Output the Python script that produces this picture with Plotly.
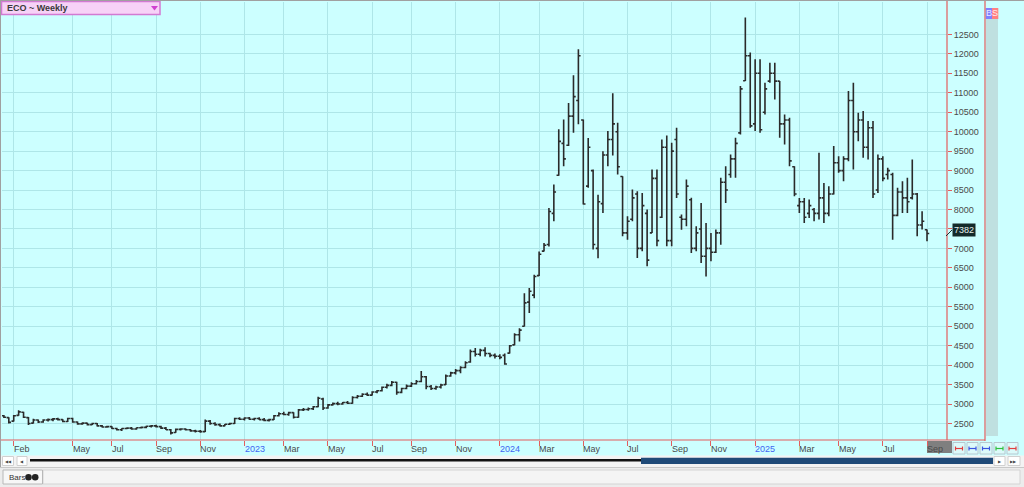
import plotly.graph_objects as go
import pandas as pd

# ---------------- data (weekly bars, week starting Monday) ----------------
first_week = "2022-01-24"

opens = [2700, 2650, 2560, 2710, 2790, 2650, 2510, 2590, 2540, 2590,
         2600, 2620, 2600, 2550, 2630, 2540, 2490, 2510, 2470, 2500,
         2440, 2410, 2420, 2370, 2340, 2370, 2380, 2360, 2390, 2400,
         2430, 2440, 2420, 2380, 2340, 2270, 2350, 2360, 2340, 2310,
         2300, 2290, 2560, 2500, 2470, 2440, 2480, 2500, 2630, 2610,
         2640, 2610, 2630, 2600, 2580, 2600, 2700, 2750, 2730, 2780,
         2660, 2850, 2860, 2880, 2930, 3130, 2900, 2980, 3010, 3000,
         3040, 3020, 3170, 3200, 3250, 3230, 3310, 3340, 3430, 3480,
         3560, 3300, 3400, 3460, 3520, 3580, 3700, 3450, 3400, 3440,
         3500, 3720, 3800, 3860, 3940, 4080, 4350, 4280, 4380, 4300,
         4250, 4230, 4250, 4310, 4520, 4780, 5000, 5620, 5800, 6300,
         6930, 7100, 7900, 8880, 9700, 9650, 10400, 10800, 10300, 8600,
         9000, 7000, 8150, 9400, 9800, 10000, 8850, 7400, 7750, 8400,
         7000, 7900, 7400, 8800, 7800, 9600, 7200, 9800, 7800, 7750,
         8250, 7000, 7500, 6800, 7000, 6900, 7400, 8700, 8900, 9300,
         9970, 11310, 11950, 10200, 11500, 10500, 11300, 11500, 11300, 10200,
         10300, 9100, 8100, 8200, 7900, 8000, 7900, 8300, 7900, 8400,
         9200, 9000, 9300, 10800, 10000, 10300, 9600, 10100, 8500, 9300,
         8900, 8900, 7850, 8450, 8300, 8300, 8400, 7600, 7480]

highs = [2720, 2660, 2720, 2840, 2800, 2670, 2620, 2600, 2610, 2630,
         2640, 2650, 2610, 2650, 2650, 2550, 2530, 2520, 2520, 2510,
         2460, 2440, 2430, 2390, 2380, 2400, 2410, 2400, 2420, 2440,
         2460, 2470, 2440, 2410, 2360, 2370, 2380, 2380, 2360, 2340,
         2330, 2600, 2590, 2530, 2500, 2490, 2520, 2650, 2660, 2660,
         2670, 2650, 2660, 2640, 2620, 2720, 2790, 2800, 2800, 2790,
         2870, 2900, 2910, 2950, 3190, 3160, 3000, 3040, 3060, 3050,
         3080, 3200, 3230, 3280, 3300, 3330, 3360, 3450, 3520, 3590,
         3570, 3420, 3500, 3560, 3620, 3850, 3720, 3490, 3470, 3520,
         3760, 3830, 3900, 3970, 4100, 4400, 4440, 4420, 4460, 4320,
         4300, 4280, 4300, 4520, 4820, 4950, 5850, 5980, 6320, 6920,
         7140, 8040, 8640, 10060, 10310, 10740, 11450, 12120, 10315, 9840,
         9030, 8380, 9500, 10015, 10985, 10230, 8856, 7826, 8513, 8470,
         8427, 7998, 9028, 9028, 9800, 9903, 9714, 10101, 7870, 8770,
         8300, 7570, 8170, 7654, 7397, 7483, 8813, 9114, 9414, 9843,
         11174, 12933, 12032, 11860, 11860, 11259, 11774, 11774, 11302, 10444,
         10358, 9114, 8298, 8298, 8255, 8041, 9457, 8684, 8598, 9629,
         9371, 9371, 11045, 11259, 10487, 10530, 10272, 10272, 9414, 9371,
         9071, 8942, 8556, 8727, 8813, 9285, 8427, 7955, 7483]

lows = [2640, 2500, 2550, 2700, 2640, 2460, 2500, 2510, 2520, 2550,
        2560, 2580, 2530, 2540, 2520, 2470, 2470, 2450, 2460, 2420,
        2400, 2390, 2360, 2320, 2310, 2350, 2340, 2340, 2370, 2380,
        2400, 2400, 2360, 2330, 2220, 2260, 2320, 2320, 2290, 2270,
        2260, 2280, 2470, 2440, 2420, 2430, 2460, 2490, 2590, 2580,
        2590, 2580, 2590, 2560, 2550, 2590, 2680, 2710, 2700, 2630,
        2650, 2820, 2830, 2850, 2920, 2850, 2880, 2960, 2970, 2980,
        3000, 3010, 3140, 3180, 3210, 3220, 3280, 3320, 3400, 3460,
        3240, 3280, 3380, 3440, 3500, 3560, 3380, 3360, 3370, 3400,
        3490, 3700, 3760, 3790, 3920, 4060, 4220, 4230, 4220, 4200,
        4170, 4150, 4010, 4300, 4510, 4610, 4990, 5340, 5720, 6290,
        6920, 7050, 7700, 8870, 9110, 9630, 9970, 10190, 8130, 8560,
        6970, 6750, 7910, 9110, 9390, 8900, 7311, 7225, 7697, 6753,
        6925, 6539, 7397, 7054, 7783, 7054, 7054, 8298, 7480, 7570,
        6880, 6925, 6624, 6281, 6667, 6882, 7096, 8169, 8813, 8813,
        9929, 11300, 10101, 10015, 9972, 10444, 11259, 10830, 9843, 9671,
        9114, 8341, 7912, 7654, 7783, 7697, 7740, 7654, 7826, 8384,
        8942, 8728, 9243, 9028, 9757, 9328, 9285, 8298, 8427, 8728,
        8770, 7225, 7826, 7912, 7912, 8255, 7311, 7483, 7182]

closes = [2660, 2530, 2700, 2800, 2660, 2500, 2590, 2540, 2590, 2600,
          2620, 2600, 2550, 2630, 2540, 2490, 2510, 2470, 2500, 2440,
          2410, 2420, 2370, 2340, 2370, 2380, 2360, 2390, 2400, 2430,
          2440, 2420, 2380, 2340, 2260, 2350, 2360, 2340, 2310, 2300,
          2290, 2560, 2500, 2470, 2440, 2480, 2500, 2630, 2610, 2640,
          2610, 2630, 2600, 2580, 2600, 2700, 2750, 2730, 2780, 2660,
          2850, 2860, 2880, 2930, 3150, 2900, 2980, 3010, 3000, 3040,
          3020, 3170, 3200, 3250, 3230, 3310, 3340, 3430, 3480, 3560,
          3300, 3400, 3460, 3520, 3580, 3700, 3450, 3400, 3440, 3490,
          3720, 3800, 3860, 3940, 4060, 4350, 4280, 4380, 4300, 4250,
          4230, 4200, 4030, 4500, 4780, 4900, 5600, 5900, 6280, 6850,
          7080, 7950, 8450, 9750, 9300, 10400, 10900, 11950, 8140, 9600,
          7100, 8200, 9400, 9800, 10200, 9100, 7400, 7700, 8300, 7000,
          8100, 6700, 8800, 7200, 9600, 7200, 9500, 8400, 7750, 8600,
          7000, 7400, 6800, 7000, 6900, 7400, 8700, 8500, 9300, 9700,
          11100, 11950, 10150, 11500, 10050, 11100, 11500, 11300, 10200, 10300,
          9250, 8400, 8200, 7800, 8100, 7900, 8300, 7900, 8400, 9200,
          9000, 9300, 10800, 10000, 10300, 9600, 10100, 8400, 9300, 8800,
          9000, 7850, 8450, 8300, 8200, 8400, 7600, 7700, 7382]

tick_dates = ["2022-02-07", "2022-05-02", "2022-06-27", "2022-08-29", "2022-10-31",
              "2023-01-02", "2023-02-27", "2023-05-01", "2023-07-03", "2023-08-28",
              "2023-10-30", "2024-01-01", "2024-02-26", "2024-04-29", "2024-07-01",
              "2024-09-02", "2024-10-28", "2024-12-30", "2025-03-03", "2025-04-28",
              "2025-06-30", "2025-09-01"]
tick_labels = ["Feb", "May", "Jul", "Sep", "Nov", "2023", "Mar", "May", "Jul", "Sep",
               "Nov", "2024", "Mar", "May", "Jul", "Sep", "Nov", "2025", "Mar", "May",
               "Jul", "Sep"]
year_labels = ["2023", "2024", "2025"]
y_tick_values = [2500, 3000, 3500, 4000, 4500, 5000, 5500, 6000, 6500, 7000, 7500,
                 8000, 8500, 9000, 9500, 10000, 10500, 11000, 11500, 12000, 12500]
y_tick_text = ["2500", "3000", "3500", "4000", "4500", "5000", "5500", "6000", "6500",
               "7000", "7500", "8000", "8500", "9000", "9500", "10000", "10500",
               "11000", "11500", "12000", "12500"]
last_price = 7382
chart_title = "ECO ~ Weekly"

dates = pd.date_range(first_week, periods=len(opens), freq="7D")

# ---------------- styling ----------------
CYAN = "#ccffff"
GRID = "#aee6e8"
RED = "#e35d5d"
FONT = "Liberation Sans"
W, H = 1024, 487
PL, PR, PT, PB = 2, 947, 2, 440


def fx(px):
    return (px - PL) / (PR - PL)


def fy(py):
    return (PB - py) / (PB - PT)


bar_line = dict(color="#2a2a2a", width=1.6)
fig = go.Figure(go.Ohlc(
    x=dates, open=opens, high=highs, low=lows, close=closes,
    increasing=dict(line=bar_line), decreasing=dict(line=bar_line),
    tickwidth=0.45, hoverinfo="none", showlegend=False,
))

shapes = []
annotations = []


def rect(x0, y0, x1, y1, fill, line=None, lw=1, layer="above"):
    shapes.append(dict(type="rect", xref="paper", yref="paper",
                       x0=fx(x0), x1=fx(x1), y0=fy(y0), y1=fy(y1),
                       fillcolor=fill, line=dict(color=line or fill, width=lw if line else 0),
                       layer=layer))


def line(x0, y0, x1, y1, color, width=1):
    shapes.append(dict(type="line", xref="paper", yref="paper",
                       x0=fx(x0), x1=fx(x1), y0=fy(y0), y1=fy(y1),
                       line=dict(color=color, width=width)))


def text(px, py, s, size=9, color="#3c3c3c", anchor="left", bg=None, bold=False):
    annotations.append(dict(xref="paper", yref="paper", x=fx(px), y=fy(py),
                            text=("<b>%s</b>" % s) if bold else s,
                            showarrow=False, xanchor=anchor, yanchor="middle",
                            font=dict(family=FONT, size=size, color=color),
                            bgcolor=bg, borderpad=1))


# right side strip and B/S
rect(986, 19, 998, 436, "#bfe0e0", layer="below")
rect(985.7, 8, 992, 19, "#8080ff")
rect(992, 8, 998.3, 19, "#ff8080")
text(988.9, 13.5, "B", size=9, color="#e8e8ff", anchor="center")
text(995.2, 13.5, "S", size=9, color="#ffecec", anchor="center")

# red frame lines
line(PR, 0, PR, PB, RED, 1.2)
line(985, 0, 985, PB + 1, RED, 1.2)
line(0, PB, 985, PB, RED, 1.2)

# title box
rect(1.5, 1.5, 160, 14.5, "#f7d2f7", line="#d27ad2", lw=1.5)
text(5, 8.5, chart_title, size=9, color="#3a3a3a", bold=True)
shapes.append(dict(type="path", xref="paper", yref="paper",
                   path="M %f %f L %f %f L %f %f Z" % (fx(151), fy(6), fx(158), fy(6), fx(154.5), fy(10.5)),
                   fillcolor="#d040d0", line=dict(width=0)))

# last price tag
line(946, 236, 952, 230, "#1d3333", 1)
text(952.5, 230, str(last_price), size=9, color="#e6f0f0", bg="#142b2b")

# x axis labels (left-aligned at their tick)
for d, lab in zip(tick_dates, tick_labels):
    col = "#3f63f2" if lab in year_labels else "#4a4a4a"
    annotations.append(dict(xref="x", yref="paper", x=d, y=fy(449), text=lab, showarrow=False,
                            xanchor="left", yanchor="middle", xshift=-2,
                            font=dict(family=FONT, size=9, color=col)))

# current period marker box behind last label
rect(927, 441, 952, 453, "#7f7f7f", layer="below")

# small buttons at bottom right
btn_x = [(953, 965), (967, 978), (980, 992), (994, 1005), (1007, 1018)]
btn_col = ["#e04040", "#3a55e0", "#3a55e0", "#30c040", "#e04040"]
for (a, b), c in zip(btn_x, btn_col):
    rect(a, 442.5, b, 454, "#dcfafa", line="#b8c8d0", lw=1)
    m = (a + b) / 2
    line(m - 3.5, 448.5, m + 3.5, 448.5, c, 1.2)
    line(m - 3.5, 446.5, m - 3.5, 450.5, c, 1.2)
    line(m + 3.5, 446.5, m + 3.5, 450.5, c, 1.2)

# scrollbar row
rect(0, 455.5, 1024, 467, "#f3f3f3", layer="below")
for a, b, s in [(2.5, 13.5, "◀◀"), (17, 27, "◀"), (994, 1005, "▶"), (1008, 1020, "▶▶")]:
    rect(a, 456.5, b, 465.5, "#ffffff", line="#d0d0d0", lw=1)
    text((a + b) / 2, 461, s, size=4, color="#444444", anchor="center")
line(30, 460.3, 641, 460.3, "#111111", 2.5)
rect(641, 457.8, 993, 464, "#1f4a78")

# status bar
rect(0, 467, 1024, 487, "#ececec", layer="below")
line(0, 467.5, 1024, 467.5, "#c8c8c8", 1)
rect(43, 470, 1020, 484, "#f4f4f4", line="#d4d4d4", lw=1)
rect(3, 470, 42.5, 484, "#f7f7f7", line="#b8b8b8", lw=1)
text(6.5, 477.3, "Bars", size=8, color="#333333")
for cx in (28.5, 35.2):
    shapes.append(dict(type="circle", xref="paper", yref="paper",
                       x0=fx(cx - 3.3), x1=fx(cx + 3.3), y0=fy(480.5), y1=fy(474),
                       fillcolor="#222222", line=dict(width=0)))

# outer frame
line(0.5, 0, 0.5, 467, "#a0a0a0", 1)
line(0, 0.5, 1024, 0.5, "#a0a0a0", 1)

fig.update_layout(
    width=W, height=H, autosize=False,
    margin=dict(l=PL, r=W - PR, t=PT, b=H - PB, pad=0),
    paper_bgcolor=CYAN, plot_bgcolor=CYAN,
    showlegend=False,
    shapes=shapes, annotations=annotations,
    xaxis=dict(type="date", range=["2022-01-21 07:00", "2025-09-29 12:00"],
               tickvals=tick_dates, showticklabels=False,
               ticks="outside", ticklen=5, tickcolor=RED, tickwidth=1,
               showgrid=True, gridcolor=GRID, gridwidth=1, zeroline=False,
               showline=False, rangeslider=dict(visible=False), fixedrange=True),
    yaxis=dict(side="right", range=[2076, 13333], tickvals=y_tick_values, ticktext=y_tick_text,
               ticks="outside", ticklen=4, tickcolor=RED, tickwidth=1,
               tickfont=dict(family=FONT, size=9, color="#4a4a4a"),
               showgrid=True, gridcolor=GRID, gridwidth=1, zeroline=False,
               showline=False, fixedrange=True),
)

fig.write_html("out.html", config={"displayModeBar": False},
               post_script="document.body.style.margin='0';document.body.style.background='#ffffff';")
